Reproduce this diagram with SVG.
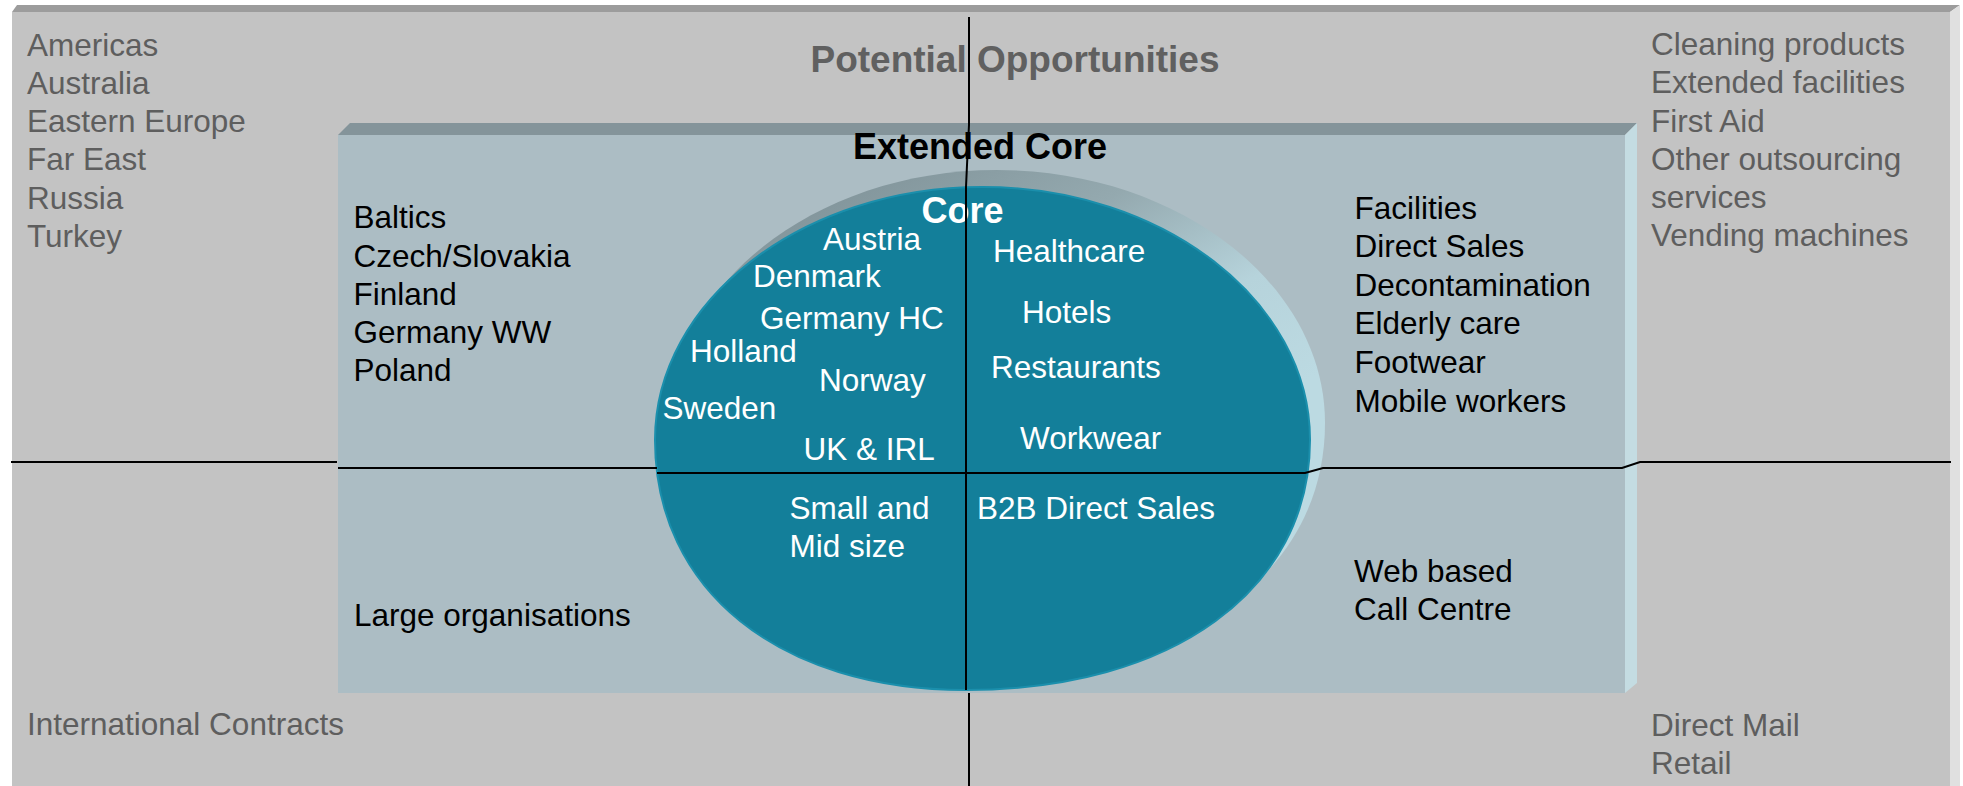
<svg xmlns="http://www.w3.org/2000/svg" width="1963" height="786" viewBox="0 0 1963 786">
<style>
text{font-family:"Liberation Sans",Arial,sans-serif;font-size:31.5px}
.g{fill:#5E5E5E}
.k{fill:#000}
.w{fill:#fff}
.hb{font-weight:bold;font-size:36px;text-anchor:middle}
.ax{fill:none;stroke:#000;stroke-width:2}
</style>
<defs>
<linearGradient id="rim" x1="0.3" y1="0" x2="0.7" y2="0.6">
<stop offset="0" stop-color="#82959B"/>
<stop offset="0.35" stop-color="#94A9AF"/>
<stop offset="0.7" stop-color="#B6D3DB"/>
<stop offset="1" stop-color="#BCDAE2"/>
</linearGradient>
<path id="disc" d="M655,440 C655,301 802,187 982,187 C1163,187 1310,301 1310,440 C1310,590 1172,690 966,690 C779,690 655,590 655,440 Z"/>
</defs>

<g id="potential-opportunities">
<rect x="0" y="0" width="1963" height="786" fill="#fff"/>
<rect x="12" y="12" width="1938" height="774" fill="#C3C3C3"/>
<polygon points="12,12 17,5 1960,5 1950,12" fill="#9C9C9C"/>
<polygon points="1950,12 1960,5 1960,786 1950,786" fill="#E0E0E0"/>
<text class="hb" x="1015" y="72" fill="#606060" style="font-size:37px">Potential Opportunities</text>
<text class="g" x="27" y="55.7">Americas</text>
<text class="g" x="27" y="93.9">Australia</text>
<text class="g" x="27" y="132.1">Eastern Europe</text>
<text class="g" x="27" y="170.3">Far East</text>
<text class="g" x="27" y="208.5">Russia</text>
<text class="g" x="27" y="246.7">Turkey</text>
<text class="g" x="1651" y="55">Cleaning products</text>
<text class="g" x="1651" y="93">Extended facilities</text>
<text class="g" x="1651" y="131.5">First Aid</text>
<text class="g" x="1651" y="170">Other outsourcing</text>
<text class="g" x="1651" y="208">services</text>
<text class="g" x="1651" y="246">Vending machines</text>
<text class="g" x="27" y="735">International Contracts</text>
<text class="g" x="1651" y="736">Direct Mail</text>
<text class="g" x="1651" y="774.3">Retail</text>
</g>

<g id="extended-core">
<rect x="338" y="135" width="1287" height="558" fill="#ACBDC4"/>
<polygon points="338,135 350,123 1637,123 1625,135" fill="#84949A"/>
<polygon points="1625,135 1637,123 1637,683 1625,693" fill="#C4DCE2"/>
<text class="k hb" x="980" y="159">Extended Core</text>
<text class="k" x="353.5" y="228.3">Baltics</text>
<text class="k" x="353.5" y="266.5">Czech/Slovakia</text>
<text class="k" x="353.5" y="304.7">Finland</text>
<text class="k" x="353.5" y="342.9">Germany WW</text>
<text class="k" x="353.5" y="381.1">Poland</text>
<text class="k" x="1354.5" y="219">Facilities</text>
<text class="k" x="1354.5" y="257.3">Direct Sales</text>
<text class="k" x="1354.5" y="296">Decontamination</text>
<text class="k" x="1354.5" y="334.3">Elderly care</text>
<text class="k" x="1354.5" y="373">Footwear</text>
<text class="k" x="1354.5" y="411.5">Mobile workers</text>
<text class="k" x="354" y="626">Large organisations</text>
<text class="k" x="1354" y="581.7">Web based</text>
<text class="k" x="1354" y="620">Call Centre</text>
</g>

<g id="core">
<use href="#disc" transform="translate(15,-17)" fill="url(#rim)"/>
<use href="#disc" fill="#137F9A" stroke="#1B8FAC" stroke-width="2"/>
<text class="w hb" x="962.5" y="223">Core</text>
<text class="w" x="823" y="250">Austria</text>
<text class="w" x="753" y="287.3">Denmark</text>
<text class="w" x="760" y="329.3">Germany HC</text>
<text class="w" x="690" y="361.7">Holland</text>
<text class="w" x="819" y="390.5">Norway</text>
<text class="w" x="662.5" y="419.3">Sweden</text>
<text class="w" x="803.5" y="460">UK &amp; IRL</text>
<text class="w" x="993" y="262.3">Healthcare</text>
<text class="w" x="1022" y="323.3">Hotels</text>
<text class="w" x="991" y="378.3">Restaurants</text>
<text class="w" x="1020" y="449.3">Workwear</text>
<text class="w" x="789.5" y="519">Small and</text>
<text class="w" x="789.5" y="556.7">Mid size</text>
<text class="w" x="977" y="519">B2B Direct Sales</text>
</g>

<g id="connectors">
<polyline class="ax" points="11,462 337,462"/>
<polyline class="ax" points="338,468 657,468"/>
<polyline class="ax" points="657,473 1305,473 1323,468 1622,468 1640,462 1951,462"/>
<polyline class="ax" stroke-width="1.7" points="969,17 969,125 967,165 966,187 966,690"/>
<polyline class="ax" stroke-width="1.7" points="969,693 969,786"/>
</g>
</svg>
